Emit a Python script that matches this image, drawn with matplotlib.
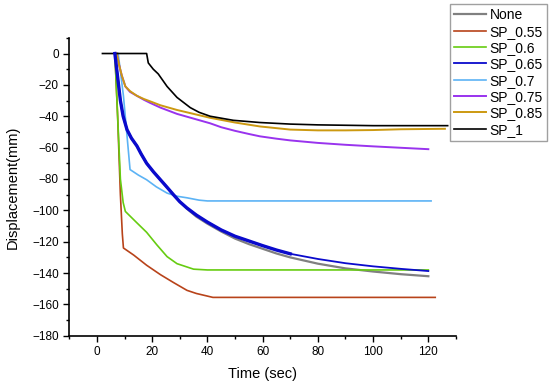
import matplotlib
matplotlib.use("Agg")
import matplotlib.pyplot as plt
from matplotlib.ticker import MultipleLocator

plt.rcParams.update({
    "font.family": ["Liberation Sans", "DejaVu Sans"],
    "axes.spines.top": False,
    "axes.spines.right": False,
})

# ── data ────────────────────────────────────────────────────
none_x = [6.5, 7.5, 8.5, 9.5, 10.9, 12.5, 14.5, 16, 18, 20.5, 23, 25.5, 27.7, 30,
          32.6, 36, 40, 45, 50, 55, 60, 65, 70, 80, 90, 100, 110, 120]
none_y = [0, -15, -30, -40, -48.6, -54, -59, -64, -70, -75.5, -80.5, -85.5, -90, -94.5,
          -99, -104, -108.5, -113.5, -118, -121.5, -124.5, -127.5, -130, -134, -137, -139, -140.7, -142]

sp055_x = [6.5, 7.5, 8.5, 9.2, 9.6, 13.3, 18, 23, 27.7, 32.6, 36, 42, 60, 80, 100, 122.5]
sp055_y = [0, -40, -90, -115, -124, -128.5, -135, -141, -146, -151, -153, -155.5, -155.5, -155.5, -155.5, -155.5]

sp06_x = [6.5, 7.5, 8.5, 9.5, 10.3, 14.5, 18, 21.7, 25.4, 29, 35, 40, 60, 80, 100, 120]
sp06_y = [0, -40, -80, -95, -100.7, -108, -114, -122, -129.5, -134, -137.5, -138, -138, -138, -138, -138]

sp065_x = [6.5, 7.5, 8.5, 9.5, 10.9, 12.5, 14.5, 16, 18, 20.5, 23, 25.5, 27.7, 30,
           32.6, 36, 40, 45, 50, 55, 60, 65, 70, 80, 90, 100, 110, 120]
sp065_y = [0, -15, -30, -40, -48.6, -54, -59, -64, -70, -75.5, -80.5, -85.5, -90, -94.5,
           -98.5, -103, -107.5, -112.5, -116.5, -119.5, -122.5, -125.3, -127.7, -131, -133.7, -135.7, -137.3, -138.7]

sp07_x = [7.7, 9.6, 12, 15, 18, 21.5, 25.4, 29, 32.6, 37, 40, 60, 80, 100, 121]
sp07_y = [0, -27, -74, -77.5, -80.5, -85, -89, -91, -92, -93.5, -94, -94, -94, -94, -94]

sp075_x = [7.2, 8, 9, 10.3, 12, 14.5, 17, 19.3, 23, 29, 35, 41, 45, 50, 55, 59, 65, 70, 80, 90, 100, 110, 120]
sp075_y = [0, -7, -14, -21, -24.5, -27, -29.5, -31.5, -34.5, -38.5, -41.5, -44.5, -47, -49.3, -51.3, -52.8,
           -54.3, -55.4, -57, -58.2, -59.2, -60.1, -61]

sp085_x = [7.2, 8, 9, 10.3, 12, 14.5, 17, 19.3, 23, 29, 35, 41, 50, 59, 70, 80, 90, 100, 110, 126]
sp085_y = [0, -7, -14, -21, -24, -27, -29, -30.5, -33, -36, -38.5, -41, -44, -46.5, -48.5, -49, -49, -48.8, -48.3, -48]

sp1_x = [2, 18, 18.6, 19.5, 20.4, 22.2, 25.4, 29, 33.8, 37, 41, 49.4, 59, 70, 80, 100, 127]
sp1_y = [0, 0, -6, -8, -10, -13, -21, -28, -34.5, -37.5, -40, -42.6, -44, -45, -45.5, -46, -46]

series = [
    ("None",    none_x,  none_y,  "#808080", 1.6),
    ("SP_0.55", sp055_x, sp055_y, "#B8431A", 1.2),
    ("SP_0.6",  sp06_x,  sp06_y,  "#66CC11", 1.2),
    ("SP_0.65", sp065_x, sp065_y, "#0A0ACC", 1.3),
    ("SP_0.7",  sp07_x,  sp07_y,  "#5CB3F5", 1.2),
    ("SP_0.75", sp075_x, sp075_y, "#9933EE", 1.4),
    ("SP_0.85", sp085_x, sp085_y, "#CC9911", 1.4),
    ("SP_1",    sp1_x,   sp1_y,   "#000000", 1.2),
]

fig = plt.figure(figsize=(5.5, 3.86), dpi=100)
ax = fig.add_axes([0.126, 0.130, 0.703, 0.772])

for label, xs, ys, color, lw in series:
    ax.plot(xs, ys, color=color, linewidth=lw, label=label)

# SP_0.65 is drawn heavier up to t=70 in the original
n70 = sp065_x.index(70) + 1
ax.plot(sp065_x[:n70], sp065_y[:n70], color="#0A0ACC", linewidth=2.4)

ax.set_xlim(-10, 130)
ax.set_ylim(-180, 10)
ax.set_xticks(range(0, 121, 20))
ax.set_yticks(range(-180, 1, 20))
ax.xaxis.set_minor_locator(MultipleLocator(10))
ax.yaxis.set_minor_locator(MultipleLocator(10))
ax.tick_params(which="major", direction="out", length=4, width=1, labelsize=8.5)
ax.tick_params(which="minor", direction="out", length=2.5, width=1)
ax.spines["left"].set_linewidth(1.2)
ax.spines["bottom"].set_linewidth(1.2)

ax.set_xlabel("Time (sec)", fontsize=10.5, labelpad=6)
ax.set_ylabel("Displacement(mm)", fontsize=10.5, labelpad=9)

leg = fig.legend(loc="upper right", bbox_to_anchor=(547 / 550, 1 - 4 / 386),
                 fontsize=10, frameon=True, fancybox=False, handlelength=2.3,
                 labelspacing=0.17, borderpad=0.3, handletextpad=0.25,
                 borderaxespad=0)
leg.get_frame().set_edgecolor("#888888")
leg.get_frame().set_linewidth(1.0)

fig.savefig("out.png", dpi=100, facecolor="white")
